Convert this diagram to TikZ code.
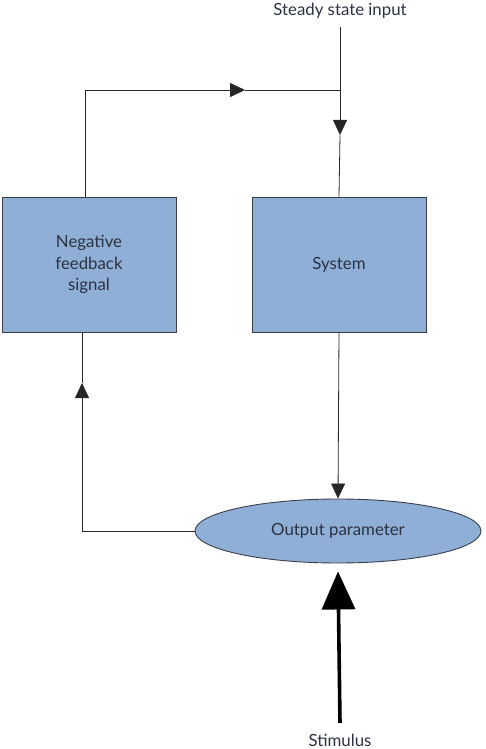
\documentclass[tikz,border=0pt]{standalone}
\usepackage{fontspec}
\setmainfont{Lato}
\usepackage{tikz}
\usetikzlibrary{positioning,arrows.meta,shapes.geometric}
\definecolor{boxblue}{HTML}{8FAFD6}
\definecolor{edgegray}{HTML}{3A3F4A}
\definecolor{inkgray}{HTML}{2B3242}

\begin{document}
\begin{tikzpicture}[x=1pt, y=-1pt,
    every node/.style={font=\fontsize{16.8}{21.5}\selectfont, text=inkgray},
    block/.style={draw=edgegray, fill=boxblue, line width=0.9pt, minimum width=174pt, minimum height=135pt, align=center, inner sep=0pt},
    oval/.style={ellipse, draw=edgegray, fill=boxblue, line width=0.9pt, minimum width=286pt, minimum height=64pt, inner sep=0pt},
    lbl/.style={inner sep=0pt},
    wire/.style={draw=black!85, line width=0.8pt},
    tip/.style={wire, -{Triangle[length=15pt,width=14pt]}},
    bigtip/.style={draw=black, line width=3.6pt, -{Triangle[length=38pt,width=33pt]}},
  ]
  \useasboundingbox (0,0) rectangle (486,749);
  \node[block] (fb) at (89,264.5) {Negative\\feedback\\signal};
  \node[block] (sys) at (339,264.5) {System};
  \node[oval] (out) at (338,531) {Output parameter};
  \node[lbl] (ssi) at (340,11) {Steady state input};
  \node[lbl] (stim) at (340,740) {Stimulus};
  \coordinate (in) at (340,27);
  \coordinate (junc) at (340,90);
  \coordinate (ha) at (245,90);
  \coordinate (va) at (340,135);
  \coordinate (ua) at (82,383);
  \coordinate (sb) at (340,723);
  % feedback loop
  \draw[tip] ([xshift=-4pt]fb.north) |- (ha);
  \draw[wire] (ha) -- (junc);
  \draw[wire] (in) -- (junc);
  \draw[tip] (junc) -- (va);
  \draw[wire] (va) -- (sys.north);
  \draw[tip] (sys.south) -- (out.north);
  \draw[tip] (out.west) -| (ua);
  \draw[wire] (ua) -- (fb.south -| ua);
  % stimulus
  \draw[bigtip] (sb) -- ([yshift=-8pt]out.south);
\end{tikzpicture}
\end{document}
